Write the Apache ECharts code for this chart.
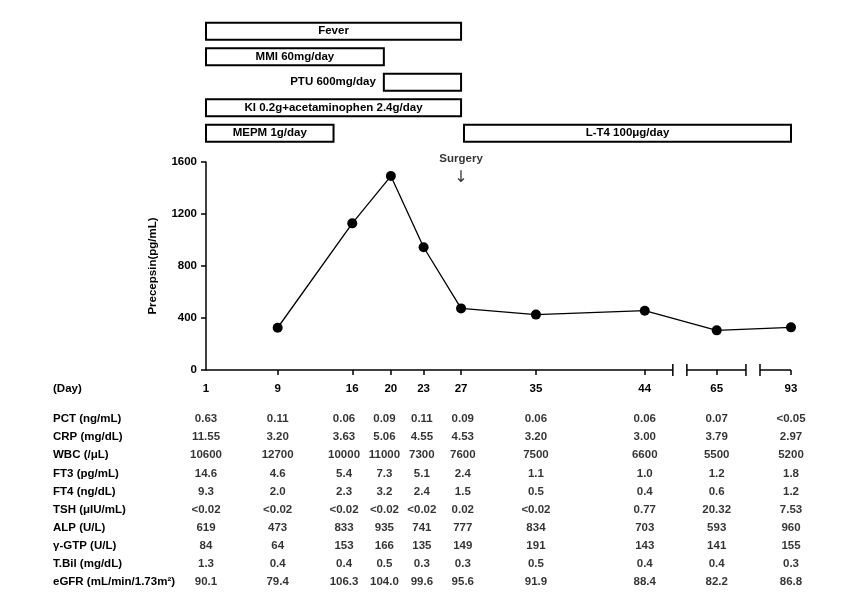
<!DOCTYPE html>
<html>
<head>
<meta charset="utf-8">
<script src="https://cdn.jsdelivr.net/npm/echarts@6/dist/echarts.min.js"></script>
<style>
html,body{margin:0;padding:0;background:#fff;}
#c{width:855px;height:606px;}
</style>
</head>
<body>
<div id="c"></div>
<script>
// ---- data ----
const days = ['1','9','16','20','23','27','35','44','65','93'];
// position of each sampled day on the (broken) time axis, in axis units 0..100
const dayAxisPos = [0, 12.25, 25.0, 31.6, 37.2, 43.6, 56.4, 75.0, 87.3, 100];
// column positions used by the lab table (axis units)
const tableColPos = [0, 12.25, 23.6, 30.5, 36.9, 43.9, 56.4, 75.0, 87.3, 100];
const precepsin = [null, 325, 1128, 1492, 944, 474, 426, 456, 305, 328];
const axisBreaks = [[79.8, 82.2], [92.3, 94.7]];

const treatments = ['Fever', 'MMI 60mg/day', 'PTU 600mg/day', 'KI 0.2g+acetaminophen 2.4g/day', 'MEPM 1g/day', 'L-T4 100\u03bcg/day'];
const treatRow = [0, 1, 2, 3, 4, 4];
const treatStart = [0, 0, 30.4, 0, 0, 44.1];
const treatEnd = [43.6, 30.4, 43.6, 43.6, 21.8, 100];
const treatLabelSide = ['inside', 'inside', 'left', 'inside', 'inside', 'inside'];

const surgeryDayIndex = 5;

const rowLabels = ['PCT (ng/mL)', 'CRP (mg/dL)', 'WBC (/\u03bcL)', 'FT3 (pg/mL)', 'FT4 (ng/dL)', 'TSH (\u03bcIU/mL)', 'ALP (U/L)', '\u03b3-GTP (U/L)', 'T.Bil (mg/dL)', 'eGFR (mL/min/1.73m\u00b2)'];
const pct  = ['0.63','0.11','0.06','0.09','0.11','0.09','0.06','0.06','0.07','<0.05'];
const crp  = ['11.55','3.20','3.63','5.06','4.55','4.53','3.20','3.00','3.79','2.97'];
const wbc  = ['10600','12700','10000','11000','7300','7600','7500','6600','5500','5200'];
const ft3  = ['14.6','4.6','5.4','7.3','5.1','2.4','1.1','1.0','1.2','1.8'];
const ft4  = ['9.3','2.0','2.3','3.2','2.4','1.5','0.5','0.4','0.6','1.2'];
const tsh  = ['<0.02','<0.02','<0.02','<0.02','<0.02','0.02','<0.02','0.77','20.32','7.53'];
const alp  = ['619','473','833','935','741','777','834','703','593','960'];
const ggtp = ['84','64','153','166','135','149','191','143','141','155'];
const tbil = ['1.3','0.4','0.4','0.5','0.3','0.3','0.5','0.4','0.4','0.3'];
const egfr = ['90.1','79.4','106.3','104.0','99.6','95.6','91.9','88.4','82.2','86.8'];
const tableRows = [pct, crp, wbc, ft3, ft4, tsh, alp, ggtp, tbil, egfr];

// ---- build ----
const FONT = 'Liberation Sans, Arial, sans-serif';
const FS = 11.5;
const FW = 'bold';

const lineData = dayAxisPos.map((p, i) => [p, precepsin[i]]);

const treatData = treatments.map((t, i) => ({
  name: t,
  value: [treatStart[i], treatEnd[i], treatRow[i]],
  side: treatLabelSide[i]
}));

const tableData = [];
tableRows.forEach((row, r) => {
  row.forEach((txt, c) => {
    tableData.push({ name: txt, value: [tableColPos[c], r] });
  });
});

// axis line segments (with breaks)
const segs = [];
let s0 = 0;
axisBreaks.forEach(b => { segs.push([s0, b[0]]); s0 = b[1]; });
segs.push([s0, 100]);
const breakEdges = [];
axisBreaks.forEach(b => { breakEdges.push(b[0], b[1]); });

const chart = echarts.init(document.getElementById('c'), null, { renderer: 'canvas' });

const txt = { fontSize: FS, fontWeight: FW, color: '#000', fontFamily: FONT };

const option = {
  animation: false,
  backgroundColor: '#fff',
  textStyle: { fontFamily: FONT, color: '#000' },
  grid: [
    { left: 206, right: 64, top: 162, height: 208 },      // main
    { left: 206, right: 64, top: 410, height: 181 },      // table
    { left: 206, right: 64, top: 18.5, height: 127.5 }    // treatments
  ],
  xAxis: [
    {
      gridIndex: 0, type: 'value', min: 0, max: 100,
      axisLine: { show: false },
      splitLine: { show: false },
      axisTick: { show: true, customValues: dayAxisPos.slice(1), length: 5, lineStyle: { color: '#000', width: 1.5 } },
      axisLabel: Object.assign({
        customValues: dayAxisPos, margin: 13,
        formatter: v => { const i = dayAxisPos.indexOf(v); return i >= 0 ? days[i] : ''; }
      }, txt)
    },
    { gridIndex: 1, type: 'value', min: 0, max: 100, show: false },
    { gridIndex: 2, type: 'value', min: 0, max: 100, show: false }
  ],
  yAxis: [
    {
      gridIndex: 0, type: 'value', min: 0, max: 1600, interval: 400,
      name: 'Precepsin(pg/mL)', nameLocation: 'middle', nameGap: 47,
      nameTextStyle: txt,
      axisLine: { show: true, lineStyle: { color: '#000', width: 1.5 } },
      axisTick: { show: true, length: 5, lineStyle: { color: '#000', width: 1.5 } },
      axisLabel: Object.assign({ margin: 9, formatter: v => String(v) }, txt),
      splitLine: { show: false }
    },
    {
      gridIndex: 1, type: 'category', inverse: true, data: rowLabels,
      axisLine: { show: false }, axisTick: { show: false }, splitLine: { show: false },
      axisLabel: Object.assign({ align: 'left', margin: 153 }, txt)
    },
    {
      gridIndex: 2, type: 'category', inverse: true, data: ['0', '1', '2', '3', '4'], show: false
    }
  ],
  graphic: [
    { type: 'text', left: 53, top: 383, style: { text: '(Day)', fontSize: FS, fontWeight: FW, fontFamily: FONT, fill: '#000' } }
  ],
  series: [
    {
      type: 'custom', xAxisIndex: 0, yAxisIndex: 0, silent: true, clip: false,
      data: segs.map(s => [s[0], s[1]]),
      renderItem: (params, api) => {
        const a = api.coord([api.value(0), 0]);
        const b = api.coord([api.value(1), 0]);
        return { type: 'line', shape: { x1: a[0], y1: a[1], x2: b[0], y2: b[1] }, style: { stroke: '#000', lineWidth: 1.5 } };
      },
      z: 3
    },
    {
      type: 'custom', xAxisIndex: 0, yAxisIndex: 0, silent: true, clip: false,
      data: breakEdges.map(v => [v]),
      renderItem: (params, api) => {
        const a = api.coord([api.value(0), 0]);
        return { type: 'line', shape: { x1: a[0], y1: a[1] - 6, x2: a[0], y2: a[1] + 6 }, style: { stroke: '#000', lineWidth: 1.5 } };
      },
      z: 3
    },
    {
      type: 'line', xAxisIndex: 0, yAxisIndex: 0,
      data: lineData,
      symbol: 'circle', symbolSize: 10,
      lineStyle: { color: '#000', width: 1.3 },
      itemStyle: { color: '#000' },
      z: 4
    },
    {
      type: 'scatter', xAxisIndex: 0, yAxisIndex: 0, clip: false,
      data: [[dayAxisPos[surgeryDayIndex], 1550]],
      symbolSize: 1, itemStyle: { color: 'rgba(0,0,0,0)' },
      label: {
        show: true, position: 'inside',
        formatter: '{s|Surgery}\n{a|\u2193}',
        rich: {
          s: { fontSize: FS, fontWeight: FW, fontFamily: FONT, color: '#000', lineHeight: 19 },
          a: { fontSize: 16, fontFamily: 'DejaVu Sans', color: '#000', lineHeight: 19 }
        }
      }
    },
    {
      type: 'scatter', xAxisIndex: 1, yAxisIndex: 1, clip: false,
      data: tableData,
      symbolSize: 1, itemStyle: { color: 'rgba(0,0,0,0)' },
      label: Object.assign({ show: true, position: 'inside', formatter: '{b}' }, txt)
    },
    {
      type: 'custom', xAxisIndex: 2, yAxisIndex: 2, clip: false,
      data: treatData,
      renderItem: (params, api) => {
        const a = api.coord([api.value(0), api.value(2)]);
        const b = api.coord([api.value(1), api.value(2)]);
        const h = 17;
        const item = treatData[params.dataIndex];
        const inside = item.side === 'inside';
        return {
          type: 'rect',
          shape: { x: a[0], y: a[1] - h / 2, width: b[0] - a[0], height: h },
          style: { fill: '#fff', stroke: '#000', lineWidth: 2 },
          textContent: { style: { text: item.name, fontSize: FS, fontWeight: FW, fontFamily: FONT, fill: '#000' } },
          textConfig: inside ? { position: 'inside' } : { position: 'left', distance: 7 }
        };
      }
    }
  ]
};
chart.setOption(option);
</script>
</body>
</html>
